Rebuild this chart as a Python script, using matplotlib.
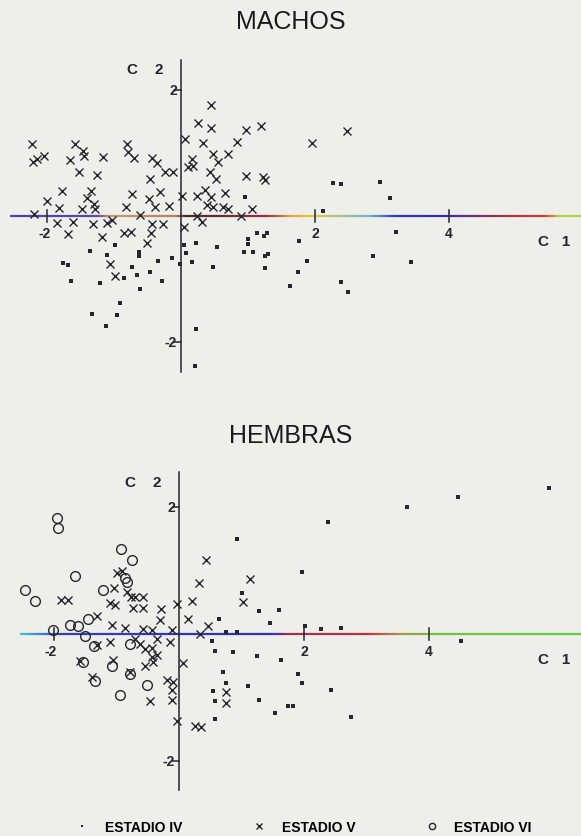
import matplotlib
matplotlib.use("Agg")
import matplotlib.pyplot as plt
import numpy as np
from matplotlib.collections import LineCollection
from matplotlib.colors import LinearSegmentedColormap
from matplotlib.lines import Line2D

plt.rcParams['font.family'] = ['Liberation Sans', 'DejaVu Sans']

# Scores on the first two canonical components (C 1, C 2)
machos_iv = [
    (0.96, 0.30), (2.27, 0.52), (2.39, 0.51), (2.97, 0.54), (3.12, 0.29), (2.12, 0.08),
    (-0.99, -0.46), (-1.36, -0.56), (-1.10, -0.62), (-0.63, -0.57), (-0.63, -0.63),
    (-0.34, -0.71), (-0.13, -0.67), (0.04, -0.46), (0.22, -0.43), (0.07, -0.59),
    (0.16, -0.73), (-0.01, -0.76), (0.54, -0.49), (0.48, -0.81), (-1.76, -0.75),
    (-1.69, -0.78), (-0.73, -0.81), (-0.46, -0.89), (-0.66, -0.94), (-0.85, -0.98),
    (-0.28, -1.03), (-1.64, -1.03), (-1.21, -1.06), (-0.61, -1.16), (-0.91, -1.38),
    (-1.33, -1.56), (-0.96, -1.57), (-1.12, -1.75), (0.22, -1.79), (0.21, -2.38),
    (1.13, -0.27), (1.28, -0.27), (1.24, -0.32), (1.00, -0.37), (1.00, -0.44),
    (0.94, -0.57), (1.07, -0.57), (1.25, -0.63), (1.30, -0.60), (1.25, -0.83),
    (1.63, -1.11), (1.75, -0.89), (1.76, -0.40), (3.21, -0.25), (1.88, -0.71),
    (2.87, -0.63), (3.43, -0.73), (2.39, -1.05), (2.49, -1.21),
]
machos_v = [
    (-2.22, 1.14), (-1.58, 1.14), (-0.81, 1.14), (0.06, 1.22), (0.33, 1.16), (0.84, 1.17),
    (0.45, 1.76), (0.25, 1.48), (0.45, 1.40), (0.97, 1.37), (1.19, 1.43), (1.96, 1.16),
    (2.48, 1.35), (-2.21, 0.86), (-2.15, 0.90), (-2.04, 0.95), (-1.66, 0.89), (-1.46, 1.03),
    (-1.45, 0.95), (-1.16, 0.94), (-0.79, 1.02), (-0.70, 0.92), (-0.43, 0.92), (-0.36, 0.84),
    (-0.24, 0.70), (-0.12, 0.70), (0.16, 0.90), (0.18, 0.79), (0.10, 0.78), (0.48, 0.98),
    (0.55, 0.86), (0.70, 0.98), (-1.52, 0.70), (-1.25, 0.65), (-0.46, 0.59), (0.43, 0.70),
    (0.52, 0.59), (0.97, 0.63), (1.22, 0.62), (1.25, 0.57), (-1.78, 0.40), (-2.00, 0.24),
    (-1.82, 0.13), (-1.34, 0.40), (-1.40, 0.29), (-1.30, 0.19), (-1.28, 0.11), (-1.48, 0.11),
    (-0.73, 0.35), (-0.82, 0.14), (-0.48, 0.27), (-0.31, 0.38), (-0.39, 0.14), (-0.18, 0.16),
    (0.01, 0.32), (0.24, 0.32), (0.36, 0.41), (0.45, 0.30), (0.39, 0.17), (0.48, 0.14),
    (0.66, 0.37), (0.63, 0.14), (0.70, 0.11), (1.06, 0.11), (0.90, 0.00), (0.24, 0.00),
    (-2.19, 0.03), (-1.85, -0.11), (-1.61, -0.10), (-1.31, -0.13), (-1.10, -0.11),
    (-1.03, -0.06), (-0.61, 0.02), (-0.43, -0.13), (-0.27, -0.13), (0.31, -0.10),
    (0.04, -0.17), (-1.69, -0.29), (-1.18, -0.33), (-0.85, -0.27), (-0.75, -0.25),
    (-0.45, -0.27), (-0.51, -0.43), (-1.06, -0.76), (-0.99, -0.95),
]

hembras_iv = [
    (0.93, 1.50), (1.01, 0.65), (1.28, 0.36), (1.60, 0.38), (1.46, 0.17), (0.64, 0.24),
    (0.75, 0.03), (0.93, 0.03), (2.02, 0.13), (2.27, 0.08), (2.59, 0.09), (1.97, 0.98),
    (2.38, 1.76), (3.65, 2.00), (4.46, 2.16), (5.92, 2.30), (4.51, -0.11), (0.53, -0.11),
    (0.58, -0.27), (0.86, -0.28), (1.25, -0.35), (1.63, -0.41), (0.70, -0.60), (0.75, -0.77),
    (1.10, -0.82), (0.54, -0.90), (0.58, -1.06), (1.28, -1.04), (1.90, -0.63), (1.97, -0.77),
    (2.43, -0.88), (1.74, -1.13), (1.82, -1.13), (1.54, -1.24), (2.75, -1.31), (0.58, -1.34),
]
hembras_v = [
    (0.43, 1.17), (0.32, 0.80), (1.14, 0.87), (1.02, 0.50), (0.21, 0.52), (-0.03, 0.47),
    (-0.29, 0.39), (0.14, 0.24), (0.46, 0.13), (-0.30, 0.22), (-1.89, 0.54), (-1.78, 0.54),
    (-0.99, 0.96), (-0.91, 0.99), (-1.04, 0.72), (-0.83, 0.66), (-0.77, 0.58), (-1.10, 0.49),
    (-1.02, 0.46), (-0.70, 0.58), (-0.58, 0.58), (-0.74, 0.41), (-0.58, 0.41), (-1.31, 0.28),
    (-1.07, 0.14), (-0.86, 0.09), (-0.58, 0.08), (-0.43, 0.06), (-0.11, 0.06), (0.34, 0.00),
    (-1.10, -0.13), (-0.70, -0.08), (-0.62, -0.16), (-0.35, -0.08), (-0.14, -0.13),
    (-1.31, -0.17), (-0.54, -0.24), (-0.43, -0.22), (-0.35, -0.33), (-0.43, -0.36),
    (-1.06, -0.41), (-0.54, -0.50), (-0.42, -0.44), (0.06, -0.46), (-0.19, -0.72),
    (-0.10, -0.76), (-0.11, -0.88), (-0.11, -1.04), (-0.46, -1.06), (-0.03, -1.37),
    (0.26, -1.45), (0.35, -1.46), (0.75, -0.91), (0.75, -1.09), (-1.58, -0.43),
    (-1.39, -0.68), (-0.78, -0.60),
]
hembras_vi = [
    (-1.95, 1.83), (-1.94, 1.67), (-0.93, 1.34), (-0.75, 1.17), (-1.66, 0.91), (-2.46, 0.69),
    (-2.30, 0.52), (-1.22, 0.69), (-0.86, 0.88), (-0.83, 0.82), (-2.02, 0.06), (-1.74, 0.14),
    (-1.62, 0.13), (-1.46, 0.24), (-1.50, -0.03), (-1.36, -0.19), (-0.78, -0.16),
    (-1.54, -0.44), (-1.07, -0.50), (-0.78, -0.63), (-1.34, -0.74), (-0.51, -0.80),
    (-0.94, -0.96),
]

x_ticks = [-2, 2, 4]
y_ticks = [-2, 2]
legend_labels = ['ESTADIO IV', 'ESTADIO V', 'ESTADIO VI']

ink = '#26262c'
paper = '#eeeeeb'

fig = plt.figure(figsize=(5.81, 8.37), dpi=100, facecolor=paper)


def colour_axis_line(ax, x0, x1, stops):
    # the printed C 1 axis carries a colour fringe along its length
    cmap = LinearSegmentedColormap.from_list('fringe', stops)
    xs = np.linspace(x0, x1, 400)
    segs = [[(xs[i], 0), (xs[i + 1], 0)] for i in range(len(xs) - 1)]
    lc = LineCollection(segs, colors=cmap(np.linspace(0, 1, len(segs))),
                        linewidths=1.6, zorder=1)
    ax.add_collection(lc)


def draw_panel(rect, xlim, ylim, xline, yline, stops, title, title_y):
    ax = fig.add_axes(rect)
    ax.set_xlim(*xlim)
    ax.set_ylim(*ylim)
    ax.axis('off')
    ax.patch.set_alpha(0)

    colour_axis_line(ax, xline[0], xline[1], stops)
    ax.plot([0, 0], yline, color=ink, lw=1.1, zorder=2)

    for t in x_ticks:
        ax.plot([t, t], [-0.09, 0.09], color=ink, lw=1.1, zorder=2)
        ax.annotate(str(t), xy=(t, 0), xytext=(-2 if t < 0 else 0, -12),
                    textcoords='offset points', ha='center', va='center',
                    fontsize=10, fontweight='bold', color=ink)
    for t in y_ticks:
        ax.plot([-0.1, 0], [t, t], color=ink, lw=1.1, zorder=2)
        ax.annotate(str(t), xy=(0, t), xytext=(-3, 0), textcoords='offset points',
                    ha='right', va='center', fontsize=10, fontweight='bold', color=ink)

    ax.annotate('C    2', xy=(0, yline[1]), xytext=(-26, -7), textcoords='offset points',
                ha='center', va='center', fontsize=11, fontweight='bold', color=ink)
    ax.annotate('C   1', xy=(xline[1], 0), xytext=(-19, -18), textcoords='offset points',
                ha='center', va='center', fontsize=11, fontweight='bold', color=ink)

    fig.text(0.5, title_y, title, ha='center', va='center', fontsize=18, color='#1a1a1e')
    return ax


def scatter(ax, pts, **kw):
    xs = [p[0] for p in pts]
    ys = [p[1] for p in pts]
    ax.plot(xs, ys, ls='', zorder=3, **kw)


dot_style = dict(marker='s', ms=2.3, mew=0, color=ink)
cross_style = dict(marker='x', ms=5.2, mew=1.0, color=ink)
circle_style = dict(marker='o', ms=7, mew=1.0, mfc='none', mec=ink)

top_stops = [(0.0, '#5040a0'), (0.15, '#5a48a8'), (0.175, '#c89a6a'), (0.29, '#b08060'),
             (0.306, '#402830'), (0.45, '#9a3040'), (0.49, '#e0a040'), (0.525, '#e8c838'),
             (0.63, '#70b8d0'), (0.674, '#3038b0'), (0.77, '#3a30a0'), (0.86, '#a03048'),
             (0.94, '#d04030'), (0.965, '#c0d040'), (1.0, '#a8d848')]
bot_stops = [(0.0, '#40c0d0'), (0.071, '#3040c0'), (0.445, '#3030b8'), (0.48, '#a03050'),
             (0.62, '#c03040'), (0.675, '#b09040'), (0.73, '#70c040'), (1.0, '#60d040')]

ax_top = draw_panel([0, 1 - 390 / 837, 1, 350 / 837], (-2.70, 5.97), (-2.75, 2.81),
                    (-2.55, 5.97), (-2.48, 2.48), top_stops, 'MACHOS', 1 - 22 / 837)
scatter(ax_top, machos_iv, **dot_style)
scatter(ax_top, machos_v, **cross_style)

ax_bot = draw_panel([0, 1 - 800 / 837, 1, 340 / 837], (-2.86, 6.43), (-2.60, 2.76),
                    (-2.54, 6.43), (-2.46, 2.55), bot_stops, 'HEMBRAS', 1 - 436 / 837)
scatter(ax_bot, hembras_iv, **dot_style)
scatter(ax_bot, hembras_v, **cross_style)
scatter(ax_bot, hembras_vi, **circle_style)

handles = [
    Line2D([], [], ls='', marker='s', ms=1.8, mew=0, color=ink),
    Line2D([], [], ls='', marker='x', ms=4, mew=1.0, color=ink),
    Line2D([], [], ls='', marker='o', ms=4.5, mew=1.0, mfc='none', mec=ink),
]
fig.legend(handles, legend_labels, ncol=3, frameon=False, loc='center left',
           bbox_to_anchor=(75 / 581, 1 - 828 / 837), borderpad=0, borderaxespad=0,
           handlelength=1.0, handletextpad=1.15, columnspacing=5.0,
           prop={'family': 'Liberation Sans', 'weight': 'bold', 'size': 10})

fig.savefig('out.png', dpi=100, facecolor=paper)
